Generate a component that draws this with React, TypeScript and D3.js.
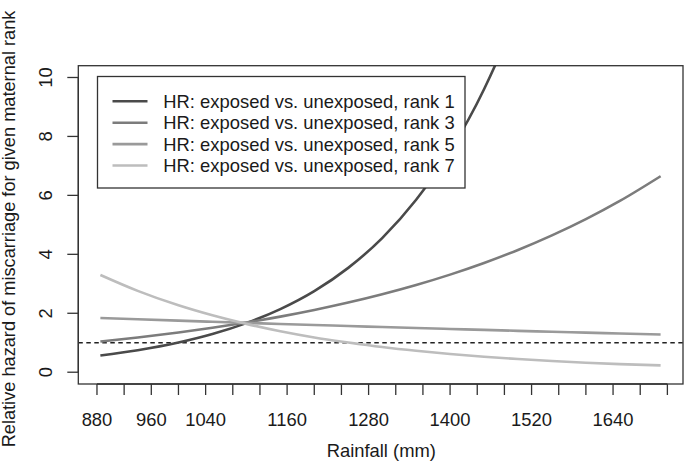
import React from "react";
import * as d3 from "d3";

const rainfall = [885, 940, 1000, 1050, 1100, 1150, 1200, 1250, 1300, 1350, 1400, 1450, 1500, 1550, 1600, 1650, 1710];
const rank1 = [0.565, 0.745, 1.007, 1.295, 1.666, 2.14, 2.75, 3.54, 4.55, 5.85, 7.5, 9.6, 12.3, 15.8, 20.2, 26.0, 34.5];
const rank3 = [1.04, 1.177, 1.347, 1.507, 1.687, 1.887, 2.112, 2.363, 2.645, 2.959, 3.311, 3.706, 4.147, 4.641, 5.193, 5.811, 6.65];
const rank5 = [1.84, 1.796, 1.749, 1.711, 1.674, 1.637, 1.602, 1.567, 1.533, 1.5, 1.467, 1.435, 1.404, 1.373, 1.343, 1.314, 1.28];
const rank7 = [3.3, 2.76, 2.27, 1.93, 1.64, 1.39, 1.18, 1.01, 0.856, 0.727, 0.618, 0.525, 0.447, 0.38, 0.323, 0.274, 0.232];

const seriesNames = [
  "HR: exposed vs. unexposed, rank 1",
  "HR: exposed vs. unexposed, rank 3",
  "HR: exposed vs. unexposed, rank 5",
  "HR: exposed vs. unexposed, rank 7",
];
const seriesValues = [rank1, rank3, rank5, rank7];
const seriesColors = ["#4a4a4a", "#7c7c7c", "#9a9a9a", "#bdbdbd"];

const xTicks = [880, 920, 960, 1000, 1040, 1080, 1120, 1160, 1200, 1240, 1280, 1320, 1360, 1400, 1440, 1480, 1520, 1560, 1600, 1640, 1680, 1720];
const xTickLabels = [880, 960, 1040, 1160, 1280, 1400, 1520, 1640];
const yTicks = [0, 2, 4, 6, 8, 10];
const refLine = 1;

const FONT = "'Liberation Sans', Arial, Helvetica, sans-serif";
const FS = 18.4;

export default function App() {
  const left = 78.3, right = 683, top = 65.7, bottom = 384;
  const x = d3.scaleLinear().domain([852.5, 1743]).range([left, right]);
  const y = d3.scaleLinear().domain([-0.4, 10.4]).range([bottom, top]);
  const line = d3
    .line<[number, number]>()
    .x((d) => x(d[0]))
    .y((d) => y(d[1]))
    .curve(d3.curveMonotoneX);

  const legend = { x: 97.5, y: 76.5, w: 367.5, h: 111.5 };
  const rowCenters = [101.3, 122.7, 144.1, 165.5];

  return (
    <svg
      width={685}
      height={464}
      style={{ position: "absolute", left: 0, top: 0, background: "#fff" }}
      fontFamily={FONT}
    >
      <defs>
        <clipPath id="plotClip">
          <rect x={left} y={top} width={right - left} height={bottom - top} />
        </clipPath>
      </defs>
      <rect x={0} y={0} width={685} height={464} fill="#fff" />

      <line
        x1={left}
        x2={right}
        y1={y(refLine)}
        y2={y(refLine)}
        stroke="#222"
        strokeWidth={1.4}
        strokeDasharray="4.5,3.5"
      />

      <g clipPath="url(#plotClip)">
        {seriesValues.map((vals, i) => (
          <path
            key={i}
            d={line(rainfall.map((r, j) => [r, vals[j]] as [number, number])) || ""}
            fill="none"
            stroke={seriesColors[i]}
            strokeWidth={2.6}
          />
        ))}
      </g>

      <rect
        x={legend.x}
        y={legend.y}
        width={legend.w}
        height={legend.h}
        fill="#fff"
        stroke="#333"
        strokeWidth={1.3}
      />
      {seriesNames.map((name, i) => (
        <g key={name}>
          <line
            x1={112.5}
            x2={147.5}
            y1={rowCenters[i]}
            y2={rowCenters[i]}
            stroke={seriesColors[i]}
            strokeWidth={2.6}
          />
          <text x={163.3} y={rowCenters[i] + 6.6} fontSize={FS} fill="#1a1a1a">
            {name}
          </text>
        </g>
      ))}

      <rect
        x={left}
        y={top}
        width={right - left}
        height={bottom - top}
        fill="none"
        stroke="#333"
        strokeWidth={1.3}
      />

      <line x1={x(xTicks[0])} x2={x(xTicks[xTicks.length - 1])} y1={bottom} y2={bottom} stroke="#333" strokeWidth={1.3} />
      {xTicks.map((t) => (
        <line key={t} x1={x(t)} x2={x(t)} y1={bottom} y2={bottom + 11} stroke="#333" strokeWidth={1.3} />
      ))}
      {xTickLabels.map((t) => (
        <text key={t} x={x(t)} y={425.5} textAnchor="middle" fontSize={FS} fill="#1a1a1a">
          {t}
        </text>
      ))}
      <text x={381.3} y={457} textAnchor="middle" fontSize={FS} fill="#1a1a1a">
        Rainfall (mm)
      </text>

      <line x1={left} x2={left} y1={y(yTicks[0])} y2={y(yTicks[yTicks.length - 1])} stroke="#333" strokeWidth={1.3} />
      {yTicks.map((t) => (
        <g key={t}>
          <line x1={left - 11} x2={left} y1={y(t)} y2={y(t)} stroke="#333" strokeWidth={1.3} />
          <text
            transform={`translate(51.7,${y(t)}) rotate(-90)`}
            textAnchor="middle"
            fontSize={FS}
            fill="#1a1a1a"
          >
            {t}
          </text>
        </g>
      ))}
      <text
        transform={`translate(15,229) rotate(-90)`}
        textAnchor="middle"
        fontSize={18.2}
        fill="#1a1a1a"
      >
        Relative hazard of miscarriage for given maternal rank
      </text>
    </svg>
  );
}
